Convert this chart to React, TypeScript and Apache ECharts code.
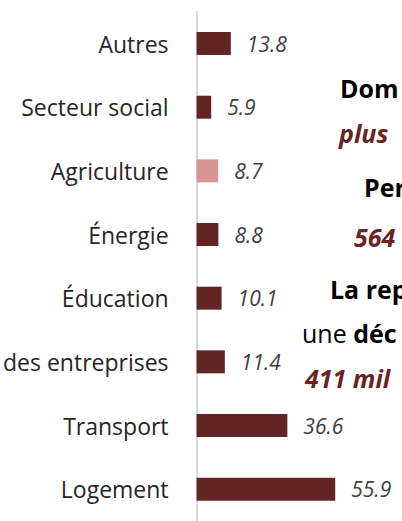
import React, { useEffect, useRef } from "react";
import * as echarts from "echarts";

const categories = [
  "Autres",
  "Secteur social",
  "Agriculture",
  "Énergie",
  "Éducation",
  "des entreprises",
  "Transport",
  "Logement",
];
const values = [13.8, 5.9, 8.7, 8.8, 10.1, 11.4, 36.6, 55.9];
const highlighted = "Agriculture";

const DARK = "#632523";
const LIGHT = "#D99694";
const MAROON = "#6B2422";

export default function App() {
  const ref = useRef<HTMLDivElement>(null);
  useEffect(() => {
    if (!ref.current) return;
    const chart = echarts.init(ref.current, undefined, { renderer: "svg" });
    const font = "'Open Sans', Lato, sans-serif";
    chart.setOption({
      animation: false,
      grid: { left: 195, top: 11.7, width: 200, height: 515.2, containLabel: false },
      xAxis: {
        type: "value",
        min: 0,
        max: 80,
        show: false,
      },
      yAxis: {
        type: "category",
        inverse: true,
        data: categories,
        axisLine: { show: true, lineStyle: { color: "#D9D9D9", width: 2 } },
        axisTick: { show: false },
        splitLine: { show: false },
        axisLabel: {
          margin: 28,
          color: "#262626",
          fontSize: 23,
          fontFamily: font,
        },
      },
      series: [
        {
          type: "bar",
          barWidth: 23,
          data: values.map((v, i) => ({
            value: v,
            itemStyle: { color: categories[i] === highlighted ? LIGHT : DARK },
          })),
          label: {
            show: true,
            position: "right",
            distance: 16,
            color: "#404040",
            fontSize: 21,
            fontStyle: "italic",
            fontFamily: font,
            formatter: (p: any) => p.value.toFixed(1),
          },
        },
      ],
      graphic: [
        { type: "text", x: 340, y: 88, style: { text: "Dom", fill: "#000", font: `bold 25px ${font}`, verticalAlign: "middle" } },
        { type: "text", x: 339, y: 133, style: { text: "plus", fill: MAROON, font: `italic bold 25px ${font}`, verticalAlign: "middle" } },
        { type: "text", x: 364, y: 187, style: { text: "Per", fill: "#000", font: `bold 25px ${font}`, verticalAlign: "middle" } },
        { type: "text", x: 354, y: 237, style: { text: "564", fill: MAROON, font: `italic bold 25px ${font}`, verticalAlign: "middle" } },
        { type: "text", x: 330, y: 289, style: { text: "La rep", fill: "#000", font: `bold 25px ${font}`, verticalAlign: "middle" } },
        {
          type: "text",
          x: 302,
          y: 333,
          style: {
            text: "{n|une }{b|déc}",
            verticalAlign: "middle",
            rich: {
              n: { fill: "#000", fontSize: 25, fontFamily: font, fontWeight: "normal" },
              b: { fill: "#000", fontSize: 25, fontFamily: font, fontWeight: "bold" },
            },
          },
        },
        { type: "text", x: 305, y: 378, style: { text: "411 mil", fill: MAROON, font: `italic bold 25px ${font}`, verticalAlign: "middle" } },
      ],
    });
    return () => chart.dispose();
  }, []);
  return (
    <div
      ref={ref}
      style={{ position: "fixed", left: 0, top: 0, width: 402, height: 521, background: "#fff" }}
    />
  );
}
